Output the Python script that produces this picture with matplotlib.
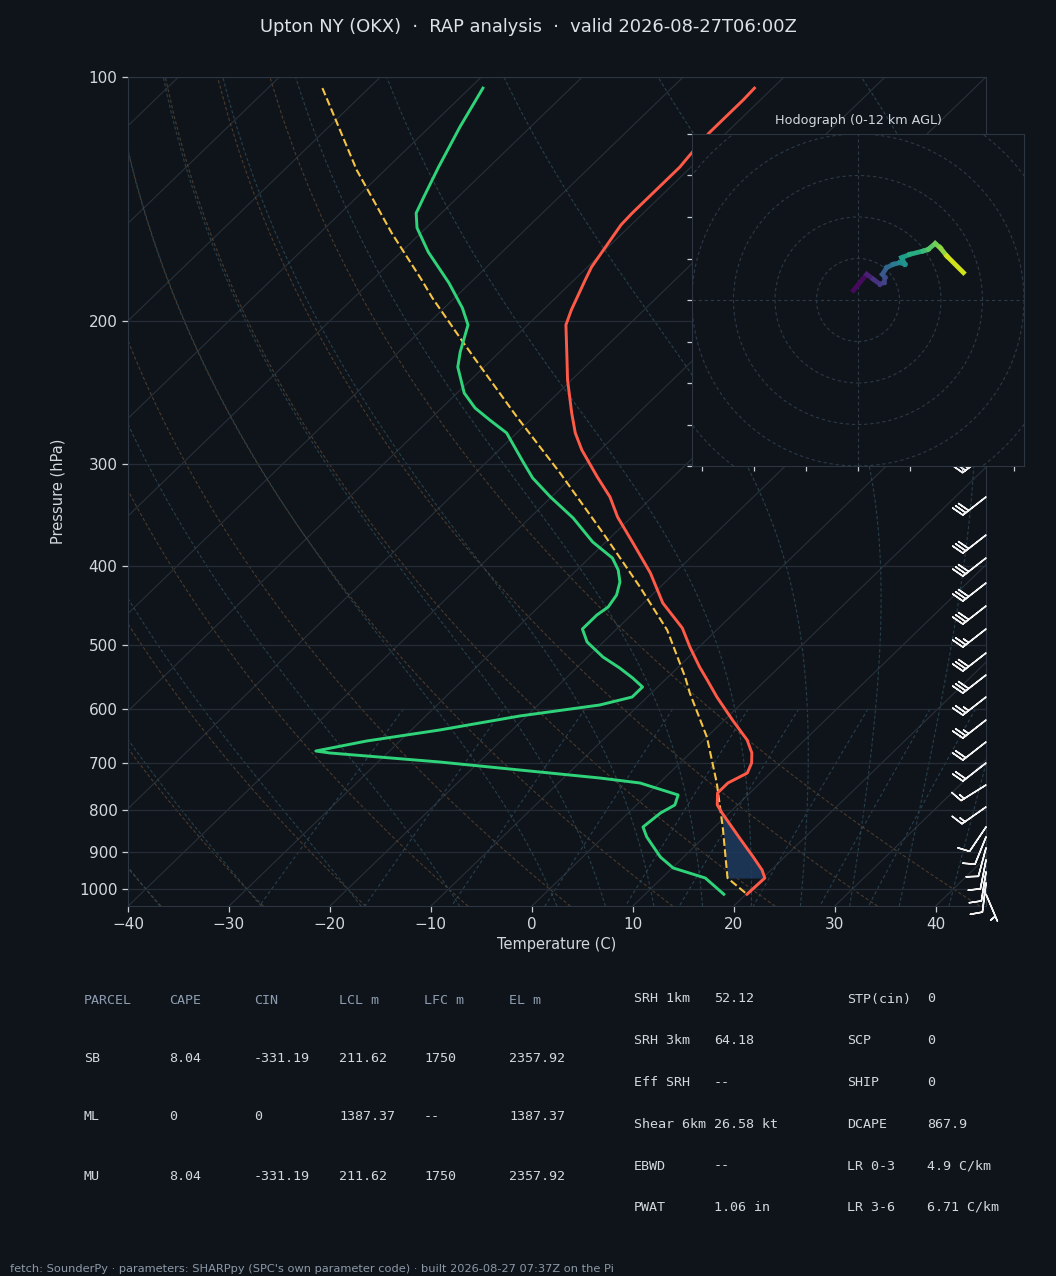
import numpy as np
import matplotlib
matplotlib.use("Agg")
import matplotlib.pyplot as plt
from matplotlib import transforms as mtransforms
from matplotlib.collections import LineCollection
from matplotlib.patches import Circle
from matplotlib.ticker import FixedLocator, NullLocator, FixedFormatter

# ---------------- data ----------------
title = "Upton NY (OKX)  \u00b7  RAP analysis  \u00b7  valid 2026-08-27T06:00Z"
footer = ("fetch: SounderPy \u00b7 parameters: SHARPpy (SPC's own parameter code) \u00b7 "
          "built 2026-08-27 07:37Z on the Pi")

# environmental temperature (hPa, degC)
temp_p = [103.2, 106.7, 117.2, 125.5, 129.1, 147.1, 152.1, 171.4, 177.8, 193.6, 202.0,
          223.1, 236.1, 259.3, 274.4, 288.0, 310.9, 329.0, 348.2, 374.9, 408.2, 444.4,
          477.1, 503.5, 532.8, 552.9, 580.2, 619.3, 655.4, 680.0, 699.6, 719.7, 740.4,
          761.7, 788.0, 806.1, 865.4, 913.3, 947.5, 969.3, 1015.0]
temp_c = [-61.8, -61.7, -61.7, -61.3, -61.1, -61.1, -61.0, -59.6, -58.9, -57.2, -56.2,
          -52.5, -50.4, -46.6, -44.2, -41.8, -37.5, -34.2, -31.4, -27.2, -22.4, -18.1,
          -13.6, -10.9, -7.9, -5.8, -3.1, 0.8, 4.3, 6.1, 7.1, 7.7, 6.8,
          6.8, 8.0, 9.3, 13.6, 16.9, 19.1, 20.2, 20.1]

# dewpoint (hPa, degC)
dew_p = [103.2, 115.2, 129.1, 140.5, 147.1, 153.4, 164.3, 179.3, 192.5, 202.0, 218.1,
         227.6, 245.0, 255.6, 264.5, 274.4, 297.9, 311.8, 329.0, 349.2, 373.8, 391.2,
         404.7, 418.7, 434.4, 449.5, 459.8, 478.4, 496.4, 517.9, 534.4, 549.7, 563.9,
         580.2, 593.5, 612.3, 637.1, 657.3, 676.2, 680.0, 697.6, 730.0, 740.4, 766.0,
         788.0, 806.1, 838.8, 862.9, 913.3, 942.2, 969.3, 1015.0]
dew_c = [-88.7, -87.0, -85.0, -83.4, -82.5, -80.9, -77.3, -72.1, -68.2, -65.9, -63.9,
         -62.6, -59.3, -56.7, -54.0, -51.0, -46.4, -43.8, -40.1, -35.7, -31.3, -27.7,
         -25.9, -24.5, -23.5, -23.1, -23.4, -23.4, -21.6, -18.5, -15.7, -13.4, -11.5,
         -11.5, -13.9, -20.7, -27.2, -33.3, -37.3, -35.7, -23.9, -6.4, -1.9, 3.1,
         3.8, 3.2, 2.9, 4.3, 7.7, 10.1, 14.3, 17.8]

# surface-based parcel path (hPa, degC)
parcel_p = [103.2, 130.2, 155.6, 177.8, 187.1, 210.8, 221.8, 262.3, 307.4, 364.4,
            424.7, 479.8, 548.2, 573.6, 649.8, 740.4, 838.8, 969.3, 1015.0]
parcel_c = [-104.6, -92.8, -82.9, -75.1, -72.2, -65.0, -61.9, -51.6, -41.6, -31.2,
            -22.0, -14.9, -8.3, -6.2, 0.0, 5.7, 10.8, 16.5, 20.1]

# CIN layer shaded between parcel and environment (hPa)
cin_layer = [969.3, 804.0]

# wind barbs (hPa, direction deg, speed kt)
wind_p = [150, 200, 250, 292.1, 329.0, 366.5, 391.2, 419.9, 448.2, 478.4, 512.1, 545.1,
          580.2, 619.3, 659.1, 699.6, 744.6, 792.5, 838.8, 862.9, 890.2, 921.1,
          952.9, 983.1, 1015.0]
wind_dir = [245, 240, 235, 233, 232, 232, 232, 232, 232, 232, 232, 232,
            232, 232, 232, 232, 238, 235, 214, 202, 195, 191,
            189, 187, 157]
wind_kt = [35, 35, 30, 30, 30, 30, 30, 30, 30, 25, 30, 30,
           25, 25, 20, 20, 15, 15, 10, 10, 10, 10,
           10, 10, 5]

# hodograph (kt) and height (km AGL)
hodo_u = [-1.1, 2.1, 3.7, 5.3, 6.3, 6.5, 5.9, 6.9, 8.5, 10.1, 11.3, 10.5, 12.5, 15.7,
          16.9, 18.6, 19.8, 21.4, 25.4]
hodo_v = [2.3, 6.2, 5.0, 3.8, 4.2, 5.4, 6.2, 7.8, 8.6, 9.0, 8.6, 10.2, 11.0, 11.8,
          12.2, 13.6, 12.6, 10.6, 6.6]
hodo_km = [0.0, 0.6, 1.5, 1.9, 2.2, 2.6, 3.0, 3.6, 4.5, 5.4, 6.0, 6.3, 7.0, 8.0,
           8.4, 9.3, 9.6, 10.4, 12.0]
hodo_rings = [10, 20, 30, 40, 50, 60]

# parameter tables
parcel_header = ["PARCEL", "CAPE", "CIN", "LCL m", "LFC m", "EL m"]
parcel_rows = [["SB", "8.04", "-331.19", "211.62", "1750", "2357.92"],
               ["ML", "0", "0", "1387.37", "--", "1387.37"],
               ["MU", "8.04", "-331.19", "211.62", "1750", "2357.92"]]
kin_labels = ["SRH 1km", "SRH 3km", "Eff SRH", "Shear 6km", "EBWD", "PWAT"]
kin_values = ["52.12", "64.18", "--", "26.58 kt", "--", "1.06 in"]
comp_labels = ["STP(cin)", "SCP", "SHIP", "DCAPE", "LR 0-3", "LR 3-6"]
comp_values = ["0", "0", "0", "867.9", "4.9 C/km", "6.71 C/km"]

# ---------------- style ----------------
BG = "#0f141a"
SPINE = "#2c3643"
TXT = "#d3d8de"
HDR = "#8d9cb0"

W, H = 1056, 1276
fig = plt.figure(figsize=(W / 100, H / 100), dpi=100, facecolor=BG)

ax = fig.add_axes([128 / W, 1 - 906.2 / H, 858 / W, 829.2 / H], facecolor=BG)
ax.set_yscale("log")
ax.set_xlim(-40, 45)
ax.set_ylim(1050, 100)
ax.set_autoscale_on(False)

skew = ax.transScale + ax.transLimits + mtransforms.Affine2D().skew_deg(45, 0) + ax.transAxes

# isotherms
for t in np.arange(-130, 50, 10):
    ax.plot([t, t], [1050, 100], transform=skew, color="#28303a", lw=0.8, zorder=1)

pgrid = np.linspace(1050, 100, 80)
# dry adiabats
for t0 in np.arange(-40, 46, 10):
    tt = (t0 + 273.15) * (pgrid / 1000.0) ** 0.2857 - 273.15
    ax.plot(tt, pgrid, transform=skew, color="#5e4731", lw=0.8, ls=(0, (3, 2)),
            alpha=0.75, zorder=1)

# moist adiabats (integrated pseudo-adiabatic lapse rate)
Rd, Cp, Lv, eps = 287.04, 1004.6, 2.501e6, 0.622


def moist_dtdp(p, T):
    es = 6.112 * np.exp(17.67 * (T - 273.15) / (T - 29.65))
    rs = eps * es / (p - es)
    return (Rd * T + Lv * rs) / (Cp + Lv * Lv * rs * eps / (Rd * T * T)) / p


def integrate(t0, p_levels):
    T = np.array(t0, dtype=float)
    out = [T.copy()]
    for i in range(1, len(p_levels)):
        p0, p1 = p_levels[i - 1], p_levels[i]
        h = p1 - p0
        k1 = moist_dtdp(p0, T)
        k2 = moist_dtdp(p0 + h / 2, T + h / 2 * k1)
        k3 = moist_dtdp(p0 + h / 2, T + h / 2 * k2)
        k4 = moist_dtdp(p1, T + h * k3)
        T = T + h / 6 * (k1 + 2 * k2 + 2 * k3 + k4)
        out.append(T.copy())
    return np.array(out)


moist_t0 = np.concatenate((np.arange(-40, 0, 10), np.arange(0, 46, 5))) + 273.15
p_up = np.linspace(1000, 100, 200)
p_dn = np.linspace(1000, 1050, 10)
up = integrate(moist_t0, p_up)
dn = integrate(moist_t0, p_dn)
p_all = np.concatenate((p_dn[::-1], p_up[1:]))
T_all = np.concatenate((dn[::-1], up[1:])) - 273.15
for j in range(len(moist_t0)):
    ax.plot(T_all[:, j], p_all, transform=skew, color="#2a4753", lw=0.8,
            ls=(0, (3, 2)), alpha=0.85, zorder=1)

# mixing ratio lines
for w in [0.0004, 0.001, 0.002, 0.004, 0.007, 0.01, 0.016, 0.024, 0.032]:
    pm = np.linspace(600, 1050, 30)
    e = pm * w / (eps + w)
    le = np.log(e / 6.112)
    td = 243.5 * le / (17.67 - le)
    ax.plot(td, pm, transform=skew, color="#2e4a5e", lw=0.8, ls=(0, (3, 2.5)),
            alpha=0.8, zorder=1)

# pressure grid
for p in range(100, 1001, 100):
    ax.axhline(p, color="#232c37", lw=0.9, zorder=1)

# CIN shading
pf = np.geomspace(cin_layer[0], cin_layer[1], 80)
lt = np.interp(np.log(pf), np.log(temp_p), temp_c)
lpcl = np.interp(np.log(pf), np.log(parcel_p), parcel_c)
ax.fill_betweenx(pf, lpcl, lt, where=lt >= lpcl, transform=skew, color="#1f3a5e",
                 alpha=0.85, lw=0, zorder=2)

# profiles
ax.plot(temp_c, temp_p, transform=skew, color="#ff5a48", lw=2.1, zorder=4,
        solid_joinstyle="round")
ax.plot(dew_c, dew_p, transform=skew, color="#2fd47a", lw=2.1, zorder=4,
        solid_joinstyle="round")
ax.plot(parcel_c, parcel_p, transform=skew, color="#f6c445", lw=1.5, ls="--", zorder=3)

# wind barbs
wd = np.deg2rad(np.array(wind_dir, dtype=float))
ws = np.array(wind_kt, dtype=float)
u = -ws * np.sin(wd)
v = -ws * np.cos(wd)
ax.barbs(np.ones(len(wind_p)), wind_p, u, v, transform=ax.get_yaxis_transform(),
         clip_on=False, length=6.5, color="#f2f2f2", linewidth=1.1, zorder=5)

# axes styling
for s in ax.spines.values():
    s.set_color(SPINE)
ax.yaxis.set_major_locator(FixedLocator(list(range(100, 1001, 100))))
ax.yaxis.set_major_formatter(FixedFormatter([str(v_) for v_ in range(100, 1001, 100)]))
ax.yaxis.set_minor_locator(NullLocator())
ax.set_xticks(np.arange(-40, 41, 10))
ax.tick_params(colors="#c8ced6", labelcolor=TXT, labelsize=11, length=4, width=0.9)
ax.set_xlabel("Temperature (C)", color=TXT, fontsize=10.5, labelpad=4)
ax.set_ylabel("Pressure (hPa)", color=TXT, fontsize=10.5, labelpad=10)

# ---------------- hodograph ----------------
hx = fig.add_axes([692 / W, 1 - 466 / H, 332 / W, 332 / H], facecolor=BG)
hx.set_xlim(-40, 40)
hx.set_ylim(-40, 40)
for r in hodo_rings:
    hx.add_patch(Circle((0, 0), r, fill=False, ls=(0, (3, 2.5)), lw=0.8,
                        color="#2c3947"))
hx.axhline(0, color="#2c3947", lw=0.8, ls=(0, (3, 2.5)))
hx.axvline(0, color="#2c3947", lw=0.8, ls=(0, (3, 2.5)))
pts = np.column_stack([hodo_u, hodo_v])
segs = np.stack([pts[:-1], pts[1:]], axis=1)
km = np.array(hodo_km)
lc = LineCollection(segs, cmap="viridis", norm=plt.Normalize(0, 12), lw=3.4,
                    capstyle="projecting", zorder=3)
lc.set_array(0.5 * (km[:-1] + km[1:]))
hx.add_collection(lc)
hx.set_xticks([-37.5, -25, -12.5, 0, 12.5, 25, 37.5])
hx.set_yticks(np.arange(-40, 41, 10))
hx.tick_params(labelbottom=False, labelleft=False, colors="#c8ced6", length=3.5,
               width=0.9)
for s in hx.spines.values():
    s.set_color(SPINE)
hx.set_title("Hodograph (0-12 km AGL)", color=TXT, fontsize=9.2, pad=7)

# ---------------- text ----------------
fig.text(0.5, 1 - 27 / H, title, ha="center", va="center", color="#dde2e7",
         fontsize=12.9)

mono = "DejaVu Sans Mono"
col_x = [84, 169, 254, 339, 424, 509]
row_y = [1000, 1058.5, 1117, 1176]
for j, h in enumerate(parcel_header):
    fig.text(col_x[j] / W, 1 - row_y[0] / H, h, family=mono, fontsize=9.6,
             color=HDR, va="center", ha="left")
for i, row in enumerate(parcel_rows):
    for j, val in enumerate(row):
        fig.text(col_x[j] / W, 1 - row_y[i + 1] / H, val, family=mono, fontsize=9.6,
                 color=TXT, va="center", ha="left")

r_y = [999, 1041, 1083, 1124.5, 1166, 1207.5]
for i in range(6):
    yy = 1 - r_y[i] / H
    fig.text(634 / W, yy, kin_labels[i], family=mono, fontsize=9.6, color=TXT, va="center")
    fig.text(714 / W, yy, kin_values[i], family=mono, fontsize=9.6, color=TXT, va="center")
    fig.text(847 / W, yy, comp_labels[i], family=mono, fontsize=9.6, color=TXT, va="center")
    fig.text(927 / W, yy, comp_values[i], family=mono, fontsize=9.6, color=TXT, va="center")

fig.text(10 / W, 1 - 1269 / H, footer, ha="left", va="center", color="#8d99a8",
         fontsize=8.2)

fig.savefig("out.png", dpi=100, facecolor=BG)
